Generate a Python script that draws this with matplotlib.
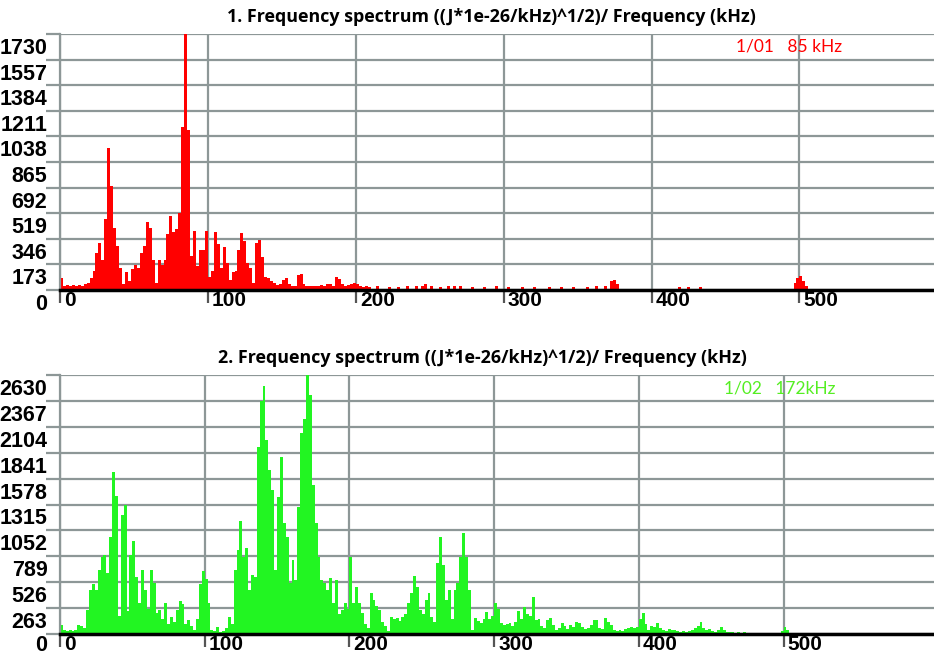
import numpy as np
import matplotlib
matplotlib.use("Agg")
import matplotlib.pyplot as plt
from matplotlib.transforms import ScaledTranslation

# =========================================================
# DATA (amplitude per 2 kHz bin)
# =========================================================
BIN = 2

# spectrum 1 (red), bins 0 .. 208 kHz
spec1_amp = [
    80, 30, 35, 25, 35, 30, 35, 25, 40, 45,             # 0-18
    80, 130, 250, 320, 200, 480, 960, 700, 420, 300,    # 20-38
    150, 40, 120, 60, 140, 170, 150, 250, 300, 460,     # 40-58
    420, 200, 50, 200, 170, 200, 380, 500, 390, 410,    # 60-78
    520, 1100, 1730, 1080, 230, 400, 160, 270, 270, 400,  # 80-98
    90, 130, 390, 310, 150, 290, 180, 70, 120, 130,     # 100-118
    270, 385, 330, 180, 150, 45, 315, 335, 220, 90,     # 120-138
    80, 60, 45, 35, 40, 70, 80, 40, 30, 25,             # 140-158
    100, 108, 40, 25, 30, 25, 30, 30, 35, 25,           # 160-178
    40, 40, 30, 85, 75, 40, 30, 35, 40, 45,             # 180-198
    40, 25, 22, 25, 22,                                 # 200-208
]
# spectrum 1, isolated small bins further out
spec1_tail_khz = [214, 222, 228, 234, 240, 244, 246, 250, 256, 262, 266, 270,
                  278, 286, 294, 302, 312, 320, 330, 338, 346, 356, 362, 368,
                  372, 374, 376, 418, 424, 432, 496, 498, 500, 502, 504]
spec1_tail_amp = [25, 22, 22, 28, 25, 30, 38, 25, 22, 24, 24, 30,
                  22, 22, 24, 22, 22, 22, 22, 22, 22, 22, 24, 28,
                  60, 70, 40, 22, 22, 22, 45, 80, 95, 60, 30]

# spectrum 2 (green), bins 0 .. 504 kHz
spec2_amp = [
    90, 40, 35, 40, 30, 40, 90, 85, 60, 240,                 # 0-18
    450, 510, 450, 650, 785, 800, 620, 990, 1650, 1400,      # 20-38
    180, 1210, 1310, 230, 800, 940, 580, 310, 650, 450,      # 40-58
    250, 650, 520, 210, 240, 150, 310, 100, 176, 120,        # 60-78
    244, 340, 300, 100, 145, 80, 40, 150, 510, 640,          # 80-98
    560, 311, 40, 30, 74, 20, 30, 60, 176, 100,              # 100-118
    650, 852, 1150, 785, 870, 447, 600, 582, 1900, 2370,     # 120-138
    2520, 1970, 1665, 1460, 650, 1394, 1800, 1123, 988, 514,  # 140-158
    751, 550, 1292, 2036, 2188, 2630, 2426, 1512, 1123, 785,  # 160-178
    548, 514, 450, 565, 311, 550, 200, 244, 311, 250,        # 180-198
    780, 311, 480, 311, 210, 100, 60, 413, 345, 280,         # 200-218
    244, 120, 80, 30, 176, 150, 160, 130, 176, 200,          # 220-238
    311, 420, 590, 480, 244, 200, 345, 413, 176, 120,        # 240-258
    717, 988, 700, 350, 447, 150, 447, 514, 785, 1022,       # 260-278
    785, 447, 40, 160, 130, 110, 150, 220, 150, 180,         # 280-298
    311, 250, 110, 90, 100, 110, 80, 120, 230, 150,          # 300-318
    270, 200, 180, 380, 140, 150, 80, 60, 142, 160,          # 320-338
    90, 40, 60, 108, 80, 50, 90, 70, 125, 110,               # 340-358
    70, 50, 60, 90, 140, 142, 60, 50, 159, 120,              # 360-378
    90, 40, 30, 40, 30, 50, 60, 74, 60, 74,                  # 380-398
    150, 210, 100, 40, 80, 70, 108, 60, 40, 30,              # 400-418
    50, 40, 45, 30, 25, 30, 20, 30, 40, 60,                  # 420-438
    80, 125, 60, 40, 50, 30, 25, 40, 74, 40,                 # 440-458
    20, 20, 25, 15, 20, 15, 20, 15, 12, 15,                  # 460-478
    10, 12, 10, 8, 10, 8, 6, 10, 8, 30,                      # 480-498
    74, 40, 10,                                              # 500-504
]

yticks1 = [0, 173, 346, 519, 692, 865, 1038, 1211, 1384, 1557, 1730]
yticks2 = [0, 263, 526, 789, 1052, 1315, 1578, 1841, 2104, 2367, 2630]
xticks = [0, 100, 200, 300, 400, 500]

title1 = "1. Frequency spectrum ((J*1e-26/kHz)^1/2)/ Frequency (kHz)"
title2 = "2. Frequency spectrum ((J*1e-26/kHz)^1/2)/ Frequency (kHz)"
note1 = "1/01   85 kHz"
note2 = "1/02   172kHz"

# =========================================================
# STYLE
# =========================================================
W, H = 934, 655
GRID = '#8d9797'
RED = '#ff0000'
GREEN = '#22f522'
ytick_font = dict(family=['Liberation Sans Narrow', 'Liberation Sans', 'DejaVu Sans'],
                  weight='bold', size=15.5)
xtick_font = dict(family=['Liberation Sans Narrow', 'Liberation Sans', 'DejaVu Sans'],
                  weight='bold', size=15)
title_font = dict(family=['Open Sans', 'DejaVu Sans'], weight='bold', size=12.9)
note_font = dict(family=['Lato', 'DejaVu Sans'], size=12.5)

fig = plt.figure(figsize=(W / 100, H / 100), dpi=100)
fig.patch.set_facecolor('white')


def setup(ax, yticks, xmax, zero_drop=12):
    ax.set_xlim(0, xmax)
    ax.set_ylim(0, yticks[-1])
    ax.set_xticks(xticks)
    ax.set_yticks(yticks)
    ax.set_xticklabels([str(t) for t in xticks], **xtick_font)
    ax.set_yticklabels([str(t) for t in yticks], **ytick_font)
    ax.grid(True, color=GRID, lw=1.6)
    ax.set_axisbelow(True)
    for s in ['top', 'right']:
        ax.spines[s].set_visible(False)
    ax.spines['left'].set_color(GRID)
    ax.spines['left'].set_linewidth(1.6)
    ax.spines['bottom'].set_color('black')
    ax.spines['bottom'].set_linewidth(2.5)
    ax.tick_params(axis='y', length=10, width=1.6, color=GRID, pad=-1)
    ax.tick_params(axis='x', length=9, width=1.6, color='#555555', pad=-8)
    # labels sit just below their grid line / right of their tick
    for i, lab in enumerate(ax.get_yticklabels()):
        drop = zero_drop if i == 0 else 12
        lab.set_transform(lab.get_transform() +
                          ScaledTranslation(0, -drop / 100, fig.dpi_scale_trans))
    right = ScaledTranslation(4 / 100, 0, fig.dpi_scale_trans)
    for lab in ax.get_xticklabels():
        lab.set_horizontalalignment('left')
        lab.set_transform(lab.get_transform() + right)


# ===== panel 1 =====
ax1 = fig.add_axes([60 / W, 1 - 290 / H, (W - 60) / W, 256 / H])
spec1_khz = np.arange(len(spec1_amp)) * BIN
ax1.bar(spec1_khz, spec1_amp, width=BIN, align='edge', color=RED, linewidth=0)
ax1.bar(spec1_tail_khz, spec1_tail_amp, width=BIN, align='edge', color=RED, linewidth=0)
setup(ax1, yticks1, 591)

# ===== panel 2 =====
ax2 = fig.add_axes([60 / W, 1 - 634 / H, (W - 60) / W, 259 / H])
spec2_khz = np.arange(len(spec2_amp)) * BIN
ax2.bar(spec2_khz, spec2_amp, width=BIN, align='edge', color=GREEN, linewidth=0)
setup(ax2, yticks2, 604, zero_drop=9)

# titles and markers
fig.text(491 / W, 1 - 17 / H, title1, ha='center', va='center', **title_font)
fig.text(482 / W, 1 - 358 / H, title2, ha='center', va='center', **title_font)
fig.text(736 / W, 1 - 46 / H, note1, ha='left', va='center', color=RED, **note_font)
fig.text(724 / W, 1 - 388 / H, note2, ha='left', va='center', color='#55ee22', **note_font)

fig.savefig("out.png", dpi=100, facecolor='white')
